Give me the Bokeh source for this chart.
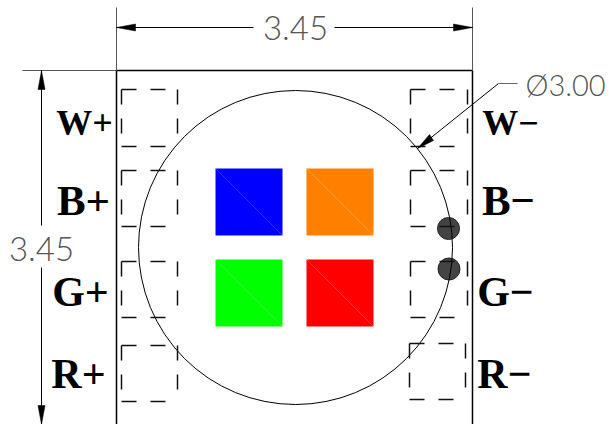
from bokeh.plotting import figure
from bokeh.models import Range1d
from bokeh.core.properties import value
from bokeh.embed import file_html
from bokeh.resources import INLINE

# Everything below is in the reference's own picture coordinates
PAD_LEFT = [(121, 177, 89, 146), (121, 177, 170, 226), (121, 177, 261, 317), (121, 177, 345, 401)]
PAD_RIGHT = [(410, 467, 89, 146), (410, 467, 170, 226), (410, 467, 261, 317), (409, 465, 343, 399)]
CHIP_NAMES = ["blue", "orange", "green", "red"]
CHIP_COLORS = ["#0000ff", "#ff8000", "#00ff00", "#ff0000"]
CHIP_LEFT = [215, 306, 215, 306]
CHIP_RIGHT = [282, 373, 282, 373]
CHIP_TOP = [168, 168, 259, 259]
CHIP_BOTTOM = [235, 235, 326, 326]
LABELS_L = ["W+", "B+", "G+", "R+"]
LABELS_L_X = [84, 83, 80, 78]
LABELS_R = ["W\u2212", "B\u2212", "G\u2212", "R\u2212"]
LABELS_R_X = [510, 508, 505, 504]
LABELS_Y = [122, 200, 291, 373]
LABEL_SIZES = ["36px", "43px", "42px", "42px"]
DOTS_X = [448, 448.5]
DOTS_Y = [228, 268.5]
OUTER_CX, OUTER_CY, OUTER_R = 295, 247, 157
DIM_TEXT = "3.45"
DIAM_TEXT = "\u00d83.00"
THIN_FONT = "Lato Light, Roboto Light, DejaVu Sans"

p = figure(width=609, height=424, x_range=Range1d(0, 609), y_range=Range1d(424, 0),
           output_backend="svg", toolbar_location=None, min_border=0)
p.axis.visible = False
p.grid.visible = False
p.outline_line_color = None
p.background_fill_color = "white"

# chips
p.quad(left=CHIP_LEFT, right=CHIP_RIGHT, top=CHIP_TOP, bottom=CHIP_BOTTOM,
       fill_color=CHIP_COLORS, line_color=None)
p.segment(CHIP_LEFT, CHIP_TOP, CHIP_RIGHT, CHIP_BOTTOM, line_color="white", line_alpha=0.2, line_width=1)

# dark dots and outline circle
p.circle(DOTS_X, DOTS_Y, radius=11, fill_color="#444444", line_color="#222222", line_width=1)
p.circle([OUTER_CX], [OUTER_CY], radius=OUTER_R, fill_color=None, line_color="black", line_width=1)

# dashed pads
for pads in (PAD_LEFT, PAD_RIGHT):
    x0s, x1s, y0s, y1s = [], [], [], []
    for l, r, t, b in pads:
        x0s += [l, l, l, r]
        x1s += [r, r, l, r]
        y0s += [t, b, t, t]
        y1s += [t, b, b, b]
    p.segment(x0s, y0s, x1s, y1s, line_color="#111111", line_width=1.5, line_dash="15 14")

# body outline and extension lines
p.segment([116, 472, 116], [70, 70, 70], [116, 472, 472], [424, 424, 70], line_color="black", line_width=1.5)
p.segment([116, 472, 22], [7, 7, 70], [116, 472, 116], [70, 70, 70], line_color="#555555", line_width=1)

# dimension lines
p.segment([116, 334, 41, 41, 417, 498], [27, 27, 70, 267, 148, 83],
          [253, 472, 41, 41, 498, 517], [27, 27, 225, 424, 83, 83],
          line_color=["black", "black", "black", "black", "black", "#666666"], line_width=1)

# arrow heads
p.patches([[116, 135, 135], [472, 453, 453], [41, 37.5, 44.5], [41, 37.5, 44.5], [417, 429, 433]],
          [[27, 23.5, 30.5], [27, 23.5, 30.5], [70, 89, 89], [424, 405, 405], [148, 134, 140]],
          fill_color="black", line_color="black", line_width=0.5)

# labels
for txt, xs in ((LABELS_L, LABELS_L_X), (LABELS_R, LABELS_R_X)):
    p.text(x=xs, y=LABELS_Y, text=txt, text_font=value("Liberation Serif"), text_font_style="bold",
           text_font_size=LABEL_SIZES, text_color="black", text_align="center", text_baseline="middle")

# dimension labels
p.text([295, 41], [27, 248], text=[DIM_TEXT, DIM_TEXT], text_font=value(THIN_FONT),
       text_font_size="33px", text_color="#555555", text_align="center", text_baseline="middle")
p.text([525], [84], text=[DIAM_TEXT], text_font=value(THIN_FONT),
       text_font_size="29px", text_color="#555555", text_align="left", text_baseline="middle")

open("out.html", "w").write(file_html(p, INLINE))
